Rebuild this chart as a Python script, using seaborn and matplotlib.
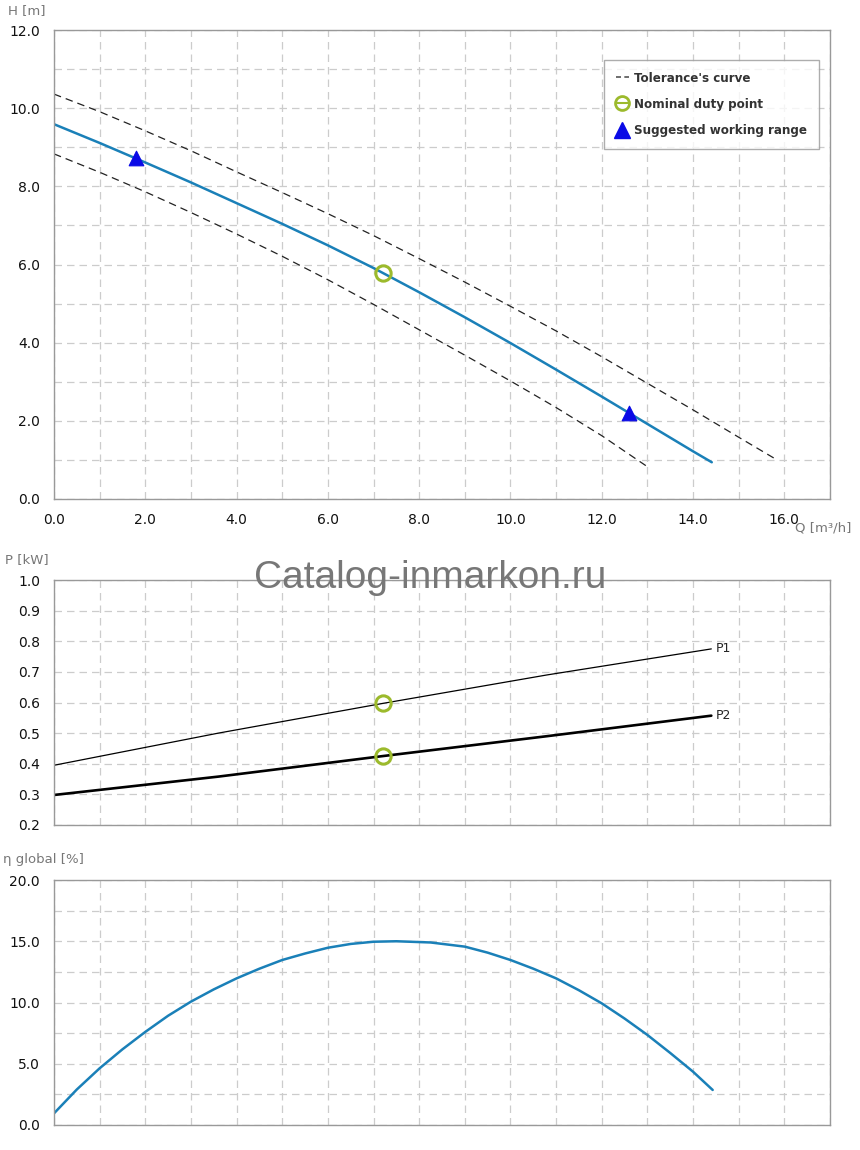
import matplotlib
matplotlib.use("Agg")
import matplotlib.pyplot as plt
from matplotlib.lines import Line2D
from matplotlib.ticker import MultipleLocator, FormatStrFormatter
import seaborn as sns

sns.set_style("white")
plt.rcParams['font.family'] = ['DejaVu Sans']

# ---- data ----
q_head = [0.0, 1.0, 2.0, 3.0, 4.0, 5.0, 6.0, 7.0, 8.0, 9.0, 10.0, 11.0, 12.0, 13.0, 14.0, 14.41]
h_head = [9.59, 9.11, 8.61, 8.10, 7.57, 7.04, 6.49, 5.91, 5.29, 4.65, 3.99, 3.31, 2.62, 1.92, 1.22, 0.94]
q_tol_hi = [0.0, 1.0, 2.0, 3.0, 4.0, 5.0, 6.0, 7.0, 8.0, 9.0, 10.0, 11.0, 12.0, 13.0, 14.0, 15.0, 15.84]
h_tol_hi = [10.36, 9.91, 9.42, 8.91, 8.37, 7.84, 7.30, 6.74, 6.15, 5.55, 4.93, 4.30, 3.64, 2.96, 2.28, 1.58, 1.0]
q_tol_lo = [0.0, 1.0, 2.0, 3.0, 4.0, 5.0, 6.0, 7.0, 8.0, 9.0, 10.0, 11.0, 12.0, 12.97]
h_tol_lo = [8.83, 8.36, 7.86, 7.33, 6.78, 6.21, 5.61, 4.98, 4.33, 3.68, 3.02, 2.34, 1.62, 0.85]
duty_q, duty_h = 7.2, 5.79
range_q = [1.8, 12.6]
range_h = [8.72, 2.2]

q_pow = [0.0, 3.6, 7.2, 10.8, 14.4]
p1 = [0.395, 0.50, 0.597, 0.69, 0.775]
p2 = [0.298, 0.358, 0.425, 0.49, 0.557]
duty_p1, duty_p2 = 0.597, 0.425

q_eff = [0.0, 0.5, 1.0, 1.5, 2.0, 2.5, 3.0, 3.5, 4.0, 4.5, 5.0, 5.5, 6.0, 6.5, 7.0, 7.5,
         8.25, 9.0, 9.5, 10.0, 10.5, 11.0, 11.5, 12.0, 12.5, 13.0, 13.5, 14.0, 14.43]
eff = [0.95, 2.9, 4.63, 6.18, 7.6, 8.92, 10.07, 11.07, 11.97, 12.76, 13.47, 14.0, 14.47, 14.78, 14.96, 15.0,
       14.9, 14.56, 14.07, 13.47, 12.76, 11.97, 11.0, 9.93, 8.69, 7.35, 5.88, 4.35, 2.86]

BLUE = "#1a80b8"
GREEN = "#9cba2c"
GRID = "#cccccc"
SPINE = "#999999"

fig = plt.figure(figsize=(8.6, 11.5), dpi=100)
L, R = 54/860, 830/860
def ax_at(top_px, bot_px):
    return fig.add_axes([L, 1 - bot_px/1150, R - L, (bot_px - top_px)/1150])

ax1 = ax_at(30, 499)
ax2 = ax_at(580, 825)
ax3 = ax_at(880, 1125)

def style(ax, ylim, ymajor, yminor, fmt, xlabels):
    ax.set_xlim(0, 17)
    ax.set_ylim(*ylim)
    ax.xaxis.set_major_locator(MultipleLocator(2))
    ax.xaxis.set_minor_locator(MultipleLocator(1))
    ax.yaxis.set_major_locator(MultipleLocator(ymajor))
    ax.yaxis.set_minor_locator(MultipleLocator(yminor))
    ax.yaxis.set_major_formatter(FormatStrFormatter(fmt))
    ax.xaxis.set_major_formatter(FormatStrFormatter('%.1f'))
    ax.grid(True, which='both', color=GRID, linestyle=(0, (6, 4)), linewidth=0.9)
    ax.set_axisbelow(True)
    for s in ax.spines.values():
        s.set_color(SPINE)
        s.set_linewidth(1.0)
    ax.tick_params(axis='x', which='both', direction='out', length=9, color=GRID,
                   labelsize=10, labelcolor='#111111', pad=1, labelbottom=xlabels)
    ax.tick_params(axis='y', which='both', length=0, labelsize=10, labelcolor='#111111', pad=10)
    ax.set_xlabel('')
    ax.set_ylabel('')

# ---- top: head ----
sns.lineplot(x=q_tol_hi, y=h_tol_hi, ax=ax1, color='#222222', linewidth=0.9,
             linestyle=(0, (6, 4)), sort=False)
sns.lineplot(x=q_tol_lo, y=h_tol_lo, ax=ax1, color='#222222', linewidth=0.9,
             linestyle=(0, (6, 4)), sort=False)
sns.lineplot(x=q_head, y=h_head, ax=ax1, color=BLUE, linewidth=1.8, sort=False)
sns.scatterplot(x=range_q, y=range_h, ax=ax1, marker='^', s=110, color='#0a0ae6',
                edgecolor='#0a0ae6', zorder=5)
ax1.plot([duty_q], [duty_h], marker='o', ms=11, mfc='none', mec=GREEN, mew=2.2,
         linestyle='none', zorder=6)
style(ax1, (0, 12), 2, 1, '%.1f', True)

handles = [
    Line2D([], [], color='#555555', linestyle=(0, (3, 2)), linewidth=1.2),
    Line2D([], [], color=GREEN, marker='o', mfc='none', mec=GREEN, mew=2, ms=10, linewidth=1.5),
    Line2D([], [], color='#0a0ae6', marker='^', ms=11, linestyle='none'),
]
labels = ["Tolerance's curve", "Nominal duty point", "Suggested working range"]
leg = ax1.legend(handles, labels, loc='upper right', bbox_to_anchor=((819-54)/776, (499-60)/469),
                 borderaxespad=0, frameon=True, fancybox=False, handlelength=1.0,
                 handletextpad=0.4, borderpad=0.9, labelspacing=1.0,
                 prop={'weight': 'bold', 'size': 9.5, 'stretch': 'condensed'})
leg.get_frame().set_edgecolor(SPINE)
leg.get_frame().set_linewidth(1.0)
for t in leg.get_texts():
    t.set_color('#333333')

# ---- middle: power ----
sns.lineplot(x=q_pow, y=p1, ax=ax2, color='black', linewidth=0.9, sort=False)
sns.lineplot(x=q_pow, y=p2, ax=ax2, color='black', linewidth=1.9, sort=False)
ax2.plot([duty_q, duty_q], [duty_p1, duty_p2], marker='o', ms=11, mfc='none', mec=GREEN,
         mew=2.2, linestyle='none', zorder=6)
ax2.text(q_pow[-1] + 0.1, p1[-1], 'P1', fontsize=9, va='center', ha='left')
ax2.text(q_pow[-1] + 0.1, p2[-1], 'P2', fontsize=9, va='center', ha='left')
style(ax2, (0.2, 1.0), 0.1, 0.1, '%.1f', False)

# ---- bottom: efficiency ----
sns.lineplot(x=q_eff, y=eff, ax=ax3, color=BLUE, linewidth=1.8, sort=False)
style(ax3, (0, 20), 5, 2.5, '%.1f', False)

# ---- axis titles ----
fig.text(8/860, 1 - 11/1150, 'H [m]', fontsize=9.5, color='#777777', va='center', ha='left')
fig.text(851/860, 1 - 528/1150, 'Q [m³/h]', fontsize=9.5, color='#777777', va='center', ha='right')
fig.text(5/860, 1 - 560/1150, 'P [kW]', fontsize=9.5, color='#777777', va='center', ha='left')
fig.text(3/860, 1 - 860/1150, 'η global [%]', fontsize=9.5, color='#777777', va='center', ha='left')

fig.text(430/860, 1 - 578/1150, 'Catalog-inmarkon.ru', fontsize=28, color='#777777',
         family='Liberation Sans', ha='center', va='center', zorder=20)

fig.savefig('out.png', dpi=100)
